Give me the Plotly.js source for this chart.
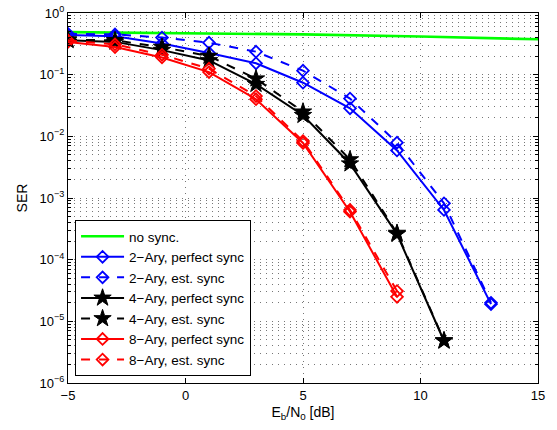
<!DOCTYPE html>
<html>
<head>
<meta charset="utf-8">
<script src="https://cdn.plot.ly/plotly-3.0.1.min.js"></script>
<style>html,body{margin:0;padding:0;background:#fff;}#chart{width:557px;height:430px;}</style>
</head>
<body>
<div id="chart"></div>
<script>
// Eb/N0 [dB]
const snrNoSync = [-5, 0, 5, 10, 15];
const serNoSync = [0.49, 0.475, 0.45, 0.415, 0.375];

const snr2 = [-5, -3, -1, 1, 3, 5, 7, 9, 11, 13];
const ser2Perfect = [0.44, 0.42, 0.32, 0.225, 0.153, 0.074, 0.0285, 0.0059, 0.00064, 0.000019];
const ser2Est     = [0.46, 0.45, 0.40, 0.33, 0.236, 0.116, 0.041, 0.0079, 0.00082, 0.000020];

const snr4 = [-5, -3, -1, 1, 3, 5, 7, 9, 11];
const ser4Perfect = [0.36, 0.34, 0.25, 0.17, 0.07, 0.022, 0.0036, 0.00026, 0.0000048];
const ser4Est     = [0.37, 0.36, 0.28, 0.20, 0.086, 0.025, 0.0042, 0.00027, 0.0000049];

const snr8 = [-5, -3, -1, 1, 3, 5, 7, 9];
const ser8Perfect = [0.34, 0.28, 0.19, 0.11, 0.040, 0.0078, 0.00060, 0.000025];
const ser8Est     = [0.36, 0.31, 0.21, 0.125, 0.045, 0.0084, 0.00064, 0.000031];

const seriesNames = ['no sync.', '2\u2212Ary, perfect sync', '2\u2212Ary, est. sync',
  '4\u2212Ary, perfect sync', '4\u2212Ary, est. sync', '8\u2212Ary, perfect sync', '8\u2212Ary, est. sync'];

const xTickVals = [-5, 0, 5, 10, 15];
const xTickText = ['\u22125', '0', '5', '10', '15'];
const yExponents = [0, -1, -2, -3, -4, -5, -6];

const yTickVals = yExponents.map(function (e) { return Math.pow(10, e); });
const yTickText = yExponents.map(function (e) {
  return '10<sup>' + (e < 0 ? '\u2212' + (-e) : e) + '</sup>';
});
const yMinorVals = [];
yExponents.forEach(function (e) {
  if (e > -6) {
    for (let m = 2; m <= 9; m++) yMinorVals.push(m * Math.pow(10, e - 1));
  }
});

function tr(x, y, name, color, dash, symbol, size, mlw) {
  const t = {
    x: x, y: y, name: name, type: 'scatter', mode: symbol ? 'lines+markers' : 'lines',
    line: {color: color, width: 2, dash: dash}
  };
  if (symbol) {
    t.marker = {symbol: symbol, size: size, color: color, line: {color: color, width: mlw}};
  }
  return t;
}

const data = [
  tr(snrNoSync, serNoSync, seriesNames[0], 'rgb(0,255,0)', 'solid', null, 0, 0),
  tr(snr2, ser2Perfect, seriesNames[1], 'rgb(0,0,255)', 'solid', 'diamond-open', 9, 1.8),
  tr(snr2, ser2Est, seriesNames[2], 'rgb(0,0,255)', 'dash', 'diamond-open', 9, 1.8),
  tr(snr4, ser4Perfect, seriesNames[3], 'black', 'solid', 'star', 13, 1),
  tr(snr4, ser4Est, seriesNames[4], 'black', 'dash', 'star', 13, 1),
  tr(snr8, ser8Perfect, seriesNames[5], 'rgb(255,0,0)', 'solid', 'diamond-open', 9, 1.8),
  tr(snr8, ser8Est, seriesNames[6], 'rgb(255,0,0)', 'dash', 'diamond-open', 9, 1.8)
];
data[0].line.width = 2.6;

const gridDash = '1px,5px';
const gridColor = '#777';
const fontFam = 'Liberation Sans, Arial, sans-serif';
const layout = {
  width: 557, height: 430,
  margin: {l: 68, r: 19, t: 13, b: 47},
  paper_bgcolor: 'white', plot_bgcolor: 'white',
  font: {family: fontFam, size: 13, color: 'black'},
  showlegend: true,
  xaxis: {
    range: [-5, 15], tickmode: 'array', tickvals: xTickVals, ticktext: xTickText,
    ticks: 'inside', ticklen: 5, tickcolor: 'black', mirror: 'ticks',
    showline: true, linecolor: 'black', linewidth: 1,
    showgrid: true, gridcolor: gridColor, griddash: gridDash, gridwidth: 1,
    zeroline: false,
    title: {text: 'E<sub>b</sub>/N<sub>0</sub> [dB]', font: {size: 14}, standoff: 5},
    tickfont: {size: 13}
  },
  yaxis: {
    type: 'log', range: [-6, 0], tickmode: 'array', tickvals: yTickVals, ticktext: yTickText,
    ticks: 'inside', ticklen: 5, tickcolor: 'black', mirror: 'ticks',
    showline: true, linecolor: 'black', linewidth: 1,
    showgrid: true, gridcolor: gridColor, griddash: gridDash, gridwidth: 1,
    zeroline: false,
    minor: {
      tickmode: 'array', tickvals: yMinorVals, ticks: 'inside', ticklen: 3, tickcolor: 'black',
      showgrid: true, gridcolor: gridColor, griddash: gridDash, gridwidth: 1
    },
    title: {text: 'SER', font: {size: 14}, standoff: 8},
    tickfont: {size: 13}
  },
  legend: {
    x: 0.015, y: 0.019, xanchor: 'left', yanchor: 'bottom',
    bgcolor: 'white', bordercolor: 'black', borderwidth: 1,
    font: {size: 13.5}, itemwidth: 43, tracegroupgap: 0
  }
};

Plotly.newPlot('chart', data, layout, {displayModeBar: false, staticPlot: true});
</script>
</body>
</html>
